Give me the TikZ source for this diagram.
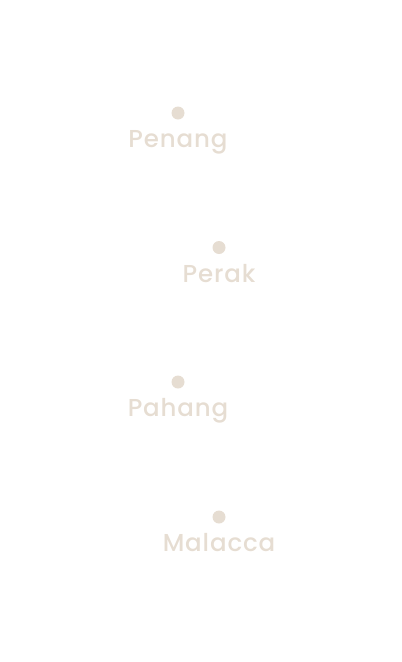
\documentclass[tikz,border=0pt]{standalone}
\usepackage{fontspec}
\setmainfont{Poppins}
\newfontfamily\placefont{Poppins Medium}[LetterSpace=3.5]
\usetikzlibrary{positioning}
\definecolor{sand}{HTML}{E6DDD2}
\tikzstyle{dot} = [circle, fill=sand, inner sep=0pt, minimum size=13pt]
\tikzstyle{place} = [text=sand, inner sep=0pt, anchor=base, font=\placefont\fontsize{24.5}{28}\selectfont]

\begin{document}
\begin{tikzpicture}[x=1pt,y=-1pt]
        \useasboundingbox (0,0) rectangle (402,662);
        
        \node (dPenang) [dot] at (178,113) {};
        \node (Penang) [place] at ([yshift=-34.5pt]dPenang.center) {Penang};
        
        \node (dPerak) [dot] at (219,247.5) {};
        \node (Perak) [place] at ([yshift=-34.5pt]dPerak.center) {Perak};
        
        \node (dPahang) [dot] at (178,382) {};
        \node (Pahang) [place] at ([yshift=-34.5pt]dPahang.center) {Pahang};
        
        \node (dMalacca) [dot] at (219,517) {};
        \node (Malacca) [place] at ([yshift=-34.5pt]dMalacca.center) {Malacca};
        
    \end{tikzpicture}
\end{document}
